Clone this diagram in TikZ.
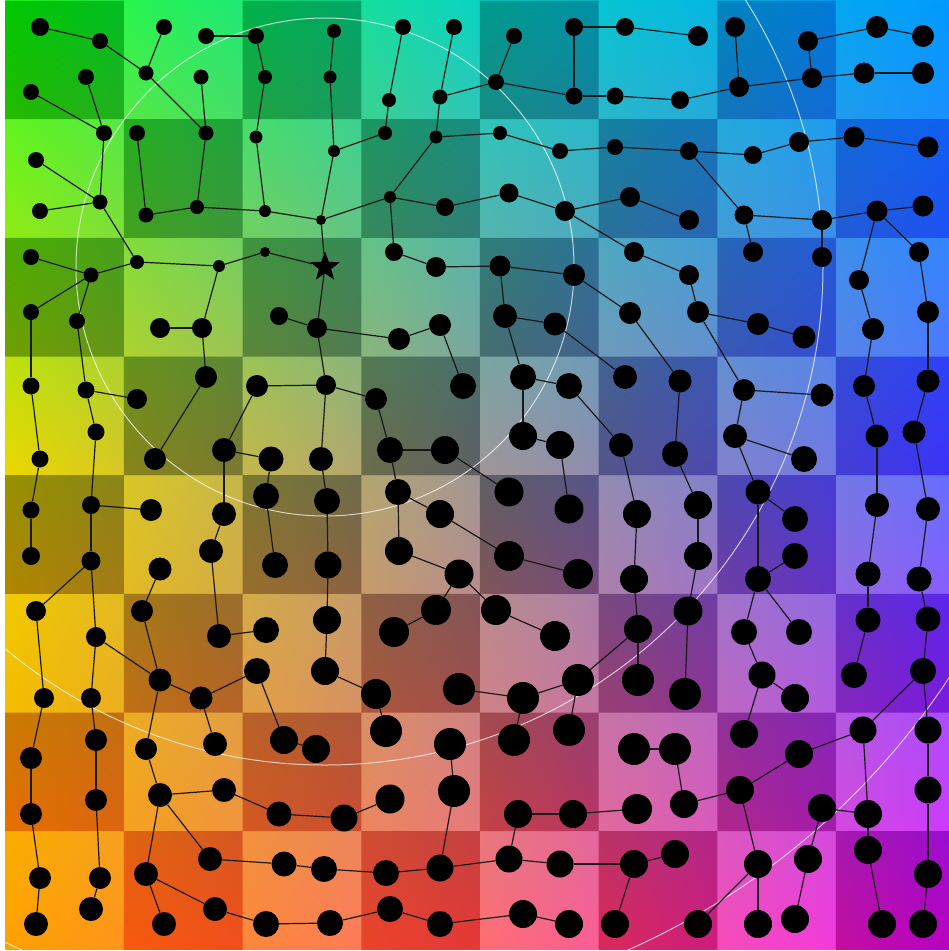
\documentclass[tikz,border=0pt]{standalone}
\usepackage{xcolor}
\usepackage{tikz}
\usetikzlibrary{shapes.geometric,backgrounds,shadings}
% pale (light) cells
\definecolor{palenw}{HTML}{32FF28}
\definecolor{palen}{HTML}{0AD4C3}
\definecolor{palene}{HTML}{0099FF}
\definecolor{palew}{HTML}{EBD700}
\definecolor{palec}{HTML}{A09696}
\definecolor{palee}{HTML}{646EFF}
\definecolor{palesw}{HTML}{FFA000}
\definecolor{pales}{HTML}{FF6E73}
\definecolor{palese}{HTML}{F028FF}
% deep (dark) cells
\definecolor{deepnw}{HTML}{00C800}
\definecolor{deepn}{HTML}{009B8C}
\definecolor{deepne}{HTML}{006EF0}
\definecolor{deepw}{HTML}{969100}
\definecolor{deepc}{HTML}{5F5F64}
\definecolor{deepe}{HTML}{3C32FA}
\definecolor{deepsw}{HTML}{FF6400}
\definecolor{deeps}{HTML}{E63737}
\definecolor{deepse}{HTML}{B900C3}

\begin{document}
\begin{tikzpicture}[x=1pt, y=-1pt,
  dot/.style={circle, fill=black, inner sep=0pt},
  root/.style={star, star points=5, star point ratio=2.4, fill=black, inner sep=0pt, minimum size=31pt},
  link/.style={draw=black!90, line width=1.2pt},
  ring/.style={draw=white, opacity=.7, line width=1pt}]
  \useasboundingbox (0,0) rectangle (949,951);
  % dots, one per sub-cell, the star at the root
  \foreach \r/\row in {
    0/{40/27/9, 100/41/8, 164/27/8, 206/36/8, 256/36/8, 334/31/7, 403/27/8, 454/27/8, 514/36/8, 574/27/9, 625/27/9, 698/36/10, 735/27/10, 808/41/10, 877/27/11, 923/36/11},
    1/{31/92/8, 86/77/8, 146/73/7.5, 201/77/7.5, 265/77/7, 330/77/6.5, 389/100/7, 440/97/7.5, 496/82/8, 574/96/8.5, 615/96/8.5, 680/100/9, 739/87/10, 812/78/10, 864/73/10.5, 923/73/11},
    2/{36/160/8, 104/133/8, 137/133/8, 206/133/7.5, 256/137/6.5, 334/151/6, 385/133/7, 436/137/6.5, 500/133/7, 560/151/8, 615/147/8, 689/151/9, 753/155/9, 799/142/10, 854/137/10.5, 928/147/10.5},
    3/{40/211/8, 100/202/7.5, 146/215/7.5, 197/207/7, 265/211/6, 321/220/5, 390/197/6, 445/207/9, 509/193/9.5, 565/211/10, 630/197/10, 689/220/10, 744/215/9.5, 822/220/10, 877/211/10.5, 923/206/10.5},
    4/{31/257/8, 91/275/7.5, 137/262/7, 219/266/6, 265/252/5, 325/267/0, 394/252/9, 436/267/10, 500/266/10.5, 574/275/11, 634/252/10, 689/275/10, 753/252/10, 822/257/10, 859/280/10, 919/252/10},
    5/{31/312/8, 77/321/8, 160/328/10, 202/328/10, 279/316/9, 317/328/10, 399/339/11, 440/325/11, 505/316/12, 555/324/11.5, 630/313/11, 698/312/11, 758/324/11, 804/337/11.5, 873/329/11, 928/312/11},
    6/{31/386/8.5, 86/390/8.5, 137/399/10, 206/377/11, 257/386/11, 326/385/10, 376/399/11, 463/386/13, 523/377/13, 569/386/13, 625/377/12, 680/381/11.5, 744/390/11, 822/395/11.5, 864/386/11, 928/381/11.5},
    7/{40/459/8.5, 96/432/8.5, 155/459/11, 224/450/12, 271/459/12.5, 321/459/12, 390/450/13, 445/450/14, 523/436/14, 560/445/14, 621/445/12, 675/454/13, 735/436/12, 804/459/13, 877/436/11.5, 914/432/11.5},
    8/{31/510/8.5, 91/505/9, 151/510/11, 224/514/12, 266/496/13, 327/501/13, 398/492/13, 440/514/14, 509/492/14.5, 569/509/14.5, 637/514/14, 698/505/14, 758/492/12.5, 795/519/13, 877/505/12, 928/509/12},
    9/{31/556/9, 91/561/9.5, 160/569/11.5, 211/551/12, 275/565/13, 328/565/13.5, 399/551/14, 459/574/14.5, 509/556/15, 578/574/15, 634/579/14, 698/556/14, 758/579/13, 795/556/13, 868/574/12.5, 919/579/12.5},
    10/{36/611/10, 96/637/10, 142/611/11, 219/636/12, 266/630/13, 327/620/14, 394/632/15, 436/610/15, 496/610/15, 555/636/15, 638/629/14, 688/611/14.5, 744/632/13, 799/632/13, 868/620/12.5, 928/619/12.5},
    11/{44/698/10, 91/698/10, 160/680/11.5, 201/698/11.5, 257/671/13, 325/671/14, 376/694/15, 459/689/16, 523/698/16, 578/680/16, 638/680/16, 685/694/16, 762/675/13.5, 795/698/14, 854/675/13, 923/671/13},
    12/{31/758/11, 96/740/11, 146/749/11, 215/744/12, 284/740/14, 316/749/14, 386/731/16, 450/744/16, 514/740/16, 569/730/16, 634/749/16, 675/749/16, 744/734/14, 799/754/14, 863/730/13.5, 928/730/13.5},
    13/{31/814/11, 96/800/11, 160/795/12, 224/790/12, 279/814/12.5, 344/818/13.5, 390/799/14.5, 454/791/16, 518/814/14, 573/814/14, 637/809/15, 684/804/14, 740/790/14, 822/808/14, 868/814/14, 928/790/13.5},
    14/{40/878/11, 100/878/11, 146/874/12, 210/859/12, 284/864/12.5, 324/869/13, 386/873/13, 440/868/13.5, 509/859/13.5, 560/864/13.5, 634/864/14, 675/854/14, 758/864/14, 808/859/14, 868/850/14, 928/874/14},
    15/{36/924/12, 91/909/12, 164/924/12, 215/909/12, 266/924/13, 330/923/13, 390/909/13, 440/924/13, 523/914/14, 569/924/14, 615/924/14, 698/924/14, 758/924/14, 795/919/14, 882/924/14, 923/924/14}}
    \foreach \x/\y/\s [count=\c from 0] in \row {
      \ifdim\s pt=0pt \node[root] (d\r-\c) at (\x,\y) {};
      \else \node[dot, minimum size=2*\s] (d\r-\c) at (\x,\y) {}; \fi
    };
  % colour field: pale cells, then deep cells of the checkerboard, then rings round the star
  \begin{scope}[on background layer]
    \fill[white] (0,0) rectangle (949,951);
    \clip (5.3,0.5) rectangle (949,949.8);
    \shade[upper left=palenw, upper right=palen, lower left=palew, lower right=palec] (5.3,0.5) rectangle (480,475.2);
    \shade[upper left=palen, upper right=palene, lower left=palec, lower right=palee] (480,0.5) rectangle (954.6,475.2);
    \shade[upper left=palew, upper right=palec, lower left=palesw, lower right=pales] (5.3,475.2) rectangle (480,949.8);
    \shade[upper left=palec, upper right=palee, lower left=pales, lower right=palese] (480,475.2) rectangle (954.6,949.8);
    \begin{scope}
      \clip foreach \i in {0,...,7} { foreach \j in {0,2,4,6} {
        ({5.3+118.67*\i},{0.5+118.67*(\j+mod(\i,2))}) rectangle ++(118.67,118.67) } };
      \shade[upper left=deepnw, upper right=deepn, lower left=deepw, lower right=deepc] (5.3,0.5) rectangle (480,475.2);
      \shade[upper left=deepn, upper right=deepne, lower left=deepc, lower right=deepe] (480,0.5) rectangle (954.6,475.2);
      \shade[upper left=deepw, upper right=deepc, lower left=deepsw, lower right=deeps] (5.3,475.2) rectangle (480,949.8);
      \shade[upper left=deepc, upper right=deepe, lower left=deeps, lower right=deepse] (480,475.2) rectangle (954.6,949.8);
    \end{scope}
    \foreach \rad in {249,498,747}
      \draw[ring] (d4-5) circle[radius=\rad];
  \end{scope}
  % tree links
  \begin{scope}[on background layer]
    \foreach \a/\b in {0-0/0-1, 0-1/1-2, 0-2/1-2, 1-2/2-3, 0-3/0-4, 0-4/1-4, 1-4/2-4, 2-4/3-4, 1-3/2-3, 2-3/3-3, 2-2/3-2, 3-2/3-3, 3-3/3-4, 3-4/3-5, 1-1/2-1, 1-0/2-1, 2-1/3-1, 2-0/3-1, 3-0/3-1, 3-1/4-2, 4-0/4-1, 4-1/4-2, 4-2/4-3, 4-3/4-4, 4-4/4-5, 4-3/5-3, 4-1/5-0, 4-1/5-1, 3-5/4-5, 4-5/5-5, 5-4/5-5,
      0-5/1-5, 1-5/2-5, 2-5/3-5, 2-5/2-6, 2-6/1-6, 1-6/0-6, 1-7/0-7, 1-7/2-7, 1-7/1-8, 0-8/1-8, 1-8/1-9, 1-9/0-9, 0-9/0-10, 1-9/1-10, 1-10/1-11, 2-7/2-8, 2-7/3-6, 2-8/2-9, 2-9/2-10, 2-10/2-11, 3-6/3-5, 3-6/3-7, 3-6/4-6, 3-7/3-8, 3-8/3-9, 3-9/3-10, 3-9/4-10, 4-6/4-7, 4-7/4-8, 4-8/4-9, 4-8/5-8, 4-9/5-10, 5-8/5-9,
      0-10/0-11, 0-12/1-12, 1-12/1-11, 1-12/1-13, 0-13/1-13, 0-13/0-14, 0-14/0-15, 1-13/1-14, 1-14/1-15, 2-11/2-12, 2-12/2-13, 2-13/2-14, 2-14/2-15, 3-10/3-11, 2-11/3-12, 3-12/3-13, 3-12/4-12, 3-13/3-14, 3-14/3-15, 3-13/4-13, 3-14/4-14, 3-14/4-15, 4-15/5-15, 4-14/5-14, 4-10/4-11, 4-11/5-11, 5-11/5-12,
      5-10/6-11, 5-11/6-12, 5-12/5-13, 6-12/6-13, 6-12/7-12, 7-12/7-13, 7-12/8-12, 8-12/8-13, 8-12/9-12, 9-12/9-13, 9-12/10-12, 9-12/10-13, 6-11/7-11, 7-11/8-11, 8-11/9-11, 9-11/10-11, 10-11/11-11, 7-10/8-10, 8-10/9-10, 9-10/10-10, 5-14/6-14, 6-14/7-14, 7-14/8-14, 8-14/9-14, 9-14/10-14, 5-15/6-15, 6-15/7-15, 7-15/8-15, 8-15/9-15, 9-15/10-15,
      5-5/6-5, 5-5/5-6, 5-6/5-7, 5-7/6-7, 5-9/6-10, 5-8/6-8, 6-8/6-9, 6-8/7-8, 7-8/7-9, 7-9/8-9, 6-9/7-10, 6-5/6-6, 6-5/7-5, 6-6/7-6, 7-6/7-7, 7-7/8-8, 7-6/8-6, 8-6/8-7, 8-6/9-6, 8-7/9-8, 9-8/9-9, 9-6/9-7, 9-7/10-7, 9-7/10-8, 10-7/10-6, 10-8/10-9, 7-5/8-5, 8-5/9-5, 9-5/10-5,
      5-0/6-0, 5-1/6-1, 6-1/6-2, 6-1/7-1, 7-1/8-1, 8-1/8-2, 8-1/9-1, 9-1/10-0, 9-1/10-1, 6-0/7-0, 7-0/8-0, 8-0/9-0, 5-2/5-3, 5-3/6-3, 6-3/7-2, 6-4/6-5, 6-4/7-3, 7-3/7-4, 7-3/8-3, 8-3/9-3, 9-3/10-3, 7-4/8-4, 8-4/9-4, 9-2/10-2, 10-3/10-4,
      10-1/11-2, 10-1/11-1, 10-0/11-0, 11-0/12-0, 12-0/13-0, 13-0/14-0, 14-0/15-0, 11-1/12-1, 12-1/13-1, 13-1/14-1, 14-1/15-1, 10-2/11-2, 11-2/11-3, 11-3/11-4, 11-3/12-3, 11-2/12-2, 12-2/13-2, 13-2/13-3, 13-3/13-4, 13-4/13-5, 13-2/14-3, 14-3/14-4, 14-4/14-5, 13-2/14-2, 14-2/15-2, 14-2/15-3, 15-3/15-4, 15-4/15-5, 11-4/12-4, 12-4/12-5,
      11-5/10-5, 11-5/11-6, 11-6/12-6, 11-7/11-8, 11-8/11-9, 11-9/10-10, 11-9/12-9, 11-8/12-8, 12-7/13-7, 13-7/14-7, 13-6/13-5, 14-7/14-6, 14-6/14-5, 14-7/14-8, 14-8/13-8, 13-8/13-9, 13-9/13-10, 14-8/14-9, 14-9/14-10, 14-10/15-10, 15-5/15-6, 15-6/15-7, 15-7/15-8, 15-8/15-9,
      10-10/11-10, 10-12/11-12, 11-12/11-13, 11-12/12-12, 10-14/11-14, 10-15/11-15, 11-15/12-14, 11-15/12-15, 12-14/12-13, 12-13/13-12, 13-12/13-11, 13-12/14-12, 13-11/12-11, 12-11/12-10, 12-14/13-14, 13-13/13-14, 13-13/14-13, 14-13/15-13, 13-14/14-14, 14-14/15-14, 12-15/13-15, 13-15/14-15, 14-15/15-15, 14-12/15-12, 14-12/15-11, 14-10/14-11}
      \draw[link] (d\a) -- (d\b);
  \end{scope}
\end{tikzpicture}
\end{document}
